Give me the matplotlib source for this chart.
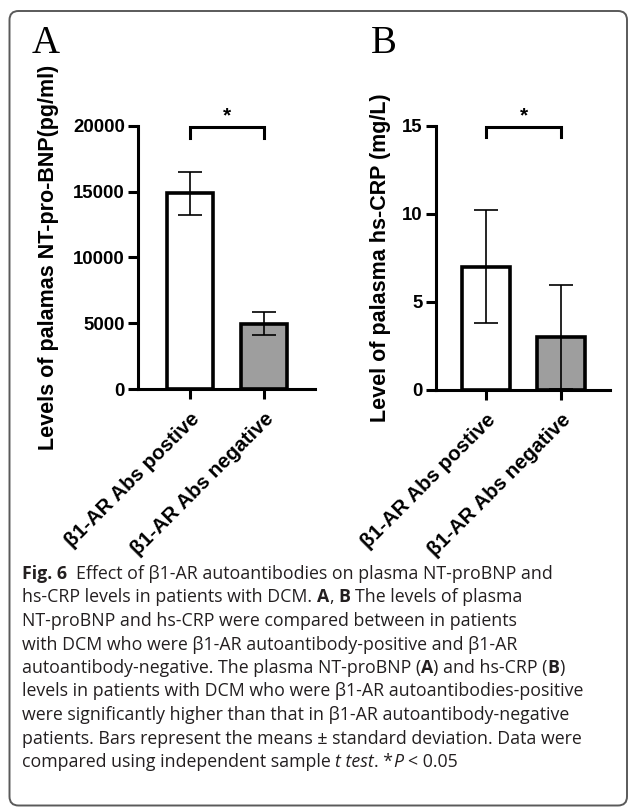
import matplotlib
matplotlib.use("Agg")
import matplotlib.pyplot as plt
from matplotlib.patches import FancyBboxPatch
from matplotlib.transforms import IdentityTransform

# ---------------- data ----------------
groups = ["β1-AR Abs postive", "β1-AR Abs negative"]
ntprobnp_mean = [14870, 4950]
ntprobnp_sd = [1640, 880]
hscrp_mean = [7.0, 3.0]
hscrp_sd = [3.2, 2.95]
bar_colors = ["white", "#9e9e9e"]
ylabel_a = "Levels of palamas NT-pro-BNP(pg/ml)"
ylabel_b = "Level of palasma hs-CRP (mg/L)"
yticks_a = [0, 5000, 10000, 15000, 20000]
yticks_b = [0, 5, 10, 15]

caption_lines = [
    [("Fig. 6", "bold", "normal"), ("  Effect of β1-AR autoantibodies on plasma NT-proBNP and", "normal", "normal")],
    [("hs-CRP levels in patients with DCM. ", "normal", "normal"), ("A", "bold", "normal"), (", ", "normal", "normal"),
     ("B", "bold", "normal"), (" The levels of plasma", "normal", "normal")],
    [("NT-proBNP and hs-CRP were compared between in patients", "normal", "normal")],
    [("with DCM who were β1-AR autoantibody-positive and β1-AR", "normal", "normal")],
    [("autoantibody-negative. The plasma NT-proBNP (", "normal", "normal"), ("A", "bold", "normal"),
     (") and hs-CRP (", "normal", "normal"), ("B", "bold", "normal"), (")", "normal", "normal")],
    [("levels in patients with DCM who were β1-AR autoantibodies-positive", "normal", "normal")],
    [("were significantly higher than that in β1-AR autoantibody-negative", "normal", "normal")],
    [("patients. Bars represent the means ± standard deviation. Data were", "normal", "normal")],
    [("compared using independent sample ", "normal", "normal"), ("t test", "normal", "italic"),
     (". *", "normal", "normal"), ("P", "normal", "italic"), (" < 0.05", "normal", "normal")],
]

# ---------------- layout ----------------
W, H = 629, 808
fig = plt.figure(figsize=(W / 100, H / 100), dpi=100)
renderer = fig.canvas.get_renderer()
AR = ["Liberation Sans", "DejaVu Sans"]
CAP = ["Open Sans", "DejaVu Sans"]


def measure(s, size, weight="normal", style="normal", family=AR, rotation=0):
    t = fig.text(0, 0, s, fontsize=size, fontweight=weight, fontstyle=style, family=family,
                 rotation=rotation)
    bb = t.get_window_extent(renderer)
    t.remove()
    return bb.width, bb.height


def ax_rect(x0, x1, ytop, ybot):
    return [x0 / W, 1 - ybot / H, (x1 - x0) / W, (ybot - ytop) / H]


# fit tick label size so rotated label length matches reference (~183 px)
w0, _ = measure(groups[0], 10, "bold")
XT = 10 * 181 / w0
w0, _ = measure("20000", 10, "bold")
YT = 10 * 52 / w0


def panel(rect, means, sds, xlim, width, ylim, yticks, bracket, leg):
    ax = fig.add_axes(rect)
    x = list(range(len(means)))
    ax.bar(x, means, width=width, color=bar_colors, edgecolor="black", linewidth=2.6, zorder=2)
    ax.errorbar(x, means, yerr=sds, fmt="none", ecolor="black", elinewidth=1.2,
                capsize=8.5, capthick=1.2, zorder=3)
    ax.set_xlim(*xlim)
    ax.set_ylim(*ylim)
    ax.set_yticks(yticks)
    ax.set_yticklabels([str(t) for t in yticks], fontsize=YT, fontweight="bold", family=AR)
    ax.set_xticks(x)
    ax.set_xticklabels(groups, fontsize=XT, fontweight="bold", family=AR,
                       rotation=45, ha="right", va="top", rotation_mode="anchor")
    for s in ["top", "right"]:
        ax.spines[s].set_visible(False)
    for s in ["left", "bottom"]:
        ax.spines[s].set_linewidth(2.2)
    ax.tick_params(axis="both", width=2.2, length=7.5, pad=2)
    ax.tick_params(axis="x", pad=7)
    # significance bracket
    ax.plot([x[0], x[0], x[1], x[1]], [leg, bracket, bracket, leg], color="black", lw=2.2,
            clip_on=False, solid_joinstyle="miter", zorder=4)
    ax.annotate("*", xy=(0.5 * (x[0] + x[1]), bracket), xytext=(0, 1), textcoords="offset points",
                ha="center", va="bottom", fontsize=15, fontweight="bold", family=AR, annotation_clip=False)
    return ax


panel(ax_rect(138, 315, 126, 389), ntprobnp_mean, ntprobnp_sd, (-0.703, 1.689), 0.62,
      (0, 20000), yticks_a, 19950, 19050)
panel(ax_rect(436, 610, 126, 390), hscrp_mean, hscrp_sd, (-0.667, 1.653), 0.64,
      (0, 15), yticks_b, 14.95, 14.35)

wl, _ = measure(ylabel_a, 10, "bold")
YL = 10 * 384 / wl
fig.text(49 / W, 1 - 257 / H, ylabel_a, rotation=90, ha="center", va="center",
         fontsize=YL, fontweight="bold", family=AR)
fig.text(381 / W, 1 - 258 / H, ylabel_b, rotation=90, ha="center", va="center",
         fontsize=YL, fontweight="bold", family=AR)

fig.text(32 / W, 1 - 53 / H, "A", fontsize=28, family=["Liberation Serif"], ha="left", va="baseline")
fig.text(371 / W, 1 - 53 / H, "B", fontsize=28, family=["Liberation Serif"], ha="left", va="baseline")

# border
fig.patches.append(FancyBboxPatch((9.5, 2.5), 617.5, 794.5, boxstyle="round,pad=0,rounding_size=9",
                                  transform=IdentityTransform(), facecolor="none",
                                  edgecolor="#5a5a5a", linewidth=1.4, figure=fig))

# caption: fit size so longest line spans ~562 px
wl, _ = measure("levels in patients with DCM who were β1-AR autoantibodies-positive", 10, family=CAP)
CAPSIZE = 10 * 561 / wl


def text_width(s, weight, style):
    return measure(s, CAPSIZE, weight, style, CAP)[0]


space_w = text_width("a a", "normal", "normal") - text_width("aa", "normal", "normal")

y0 = 579
dy = 23.5
for i, runs in enumerate(caption_lines):
    x = 22.0
    y = y0 + i * dy
    for s, weight, style in runs:
        lead = len(s) - len(s.lstrip(" "))
        trail = len(s) - len(s.rstrip(" "))
        x += lead * space_w
        core = s.strip(" ")
        if core:
            t = fig.text(x / W, 1 - y / H, core, fontsize=CAPSIZE, fontweight=weight,
                         fontstyle=style, family=CAP, ha="left", va="baseline", color="#231f20")
            x += t.get_window_extent(renderer).width
        x += trail * space_w

fig.savefig("out.png", dpi=100)
